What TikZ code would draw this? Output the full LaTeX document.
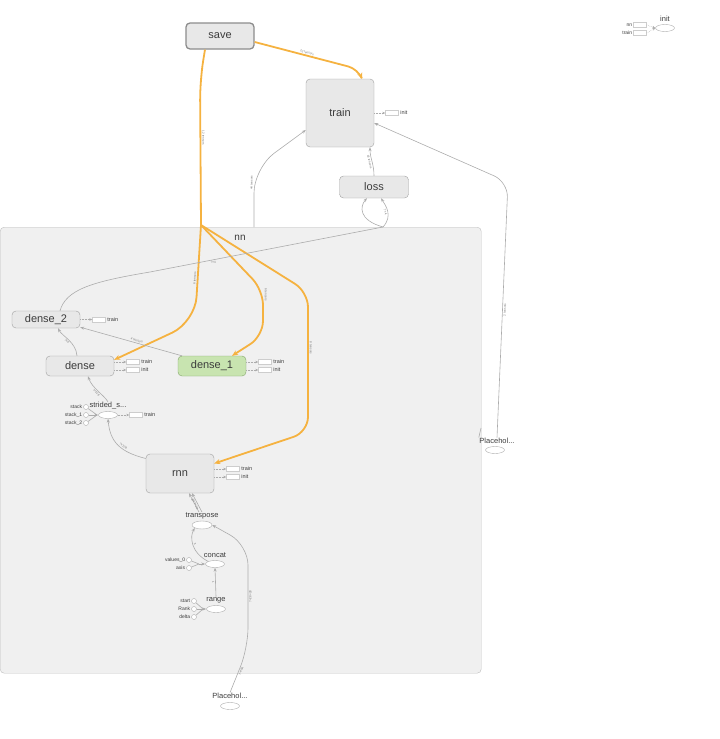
\documentclass[tikz,border=0pt]{standalone}
\usepackage{fontspec}
\setmainfont{Liberation Sans}
\usetikzlibrary{arrows.meta,shapes.geometric}
\definecolor{boxgray}{RGB}{232,232,232}
\definecolor{boxline}{RGB}{160,160,160}
\definecolor{nnfill}{RGB}{240,240,240}
\definecolor{nnline}{RGB}{190,190,190}
\definecolor{edgegray}{RGB}{172,172,172}
\definecolor{refcolor}{RGB}{245,178,64}
\definecolor{lightgreen}{RGB}{200,228,176}
\definecolor{darkgreen}{RGB}{130,165,105}
\definecolor{textgray}{RGB}{60,60,60}

\begin{document}
\begin{tikzpicture}[x=1pt, y=-1pt,
  opbox/.style={draw=boxline, fill=boxgray, rounded corners=4pt, inner sep=0pt, text=textgray, font=\fontsize{11}{11}\selectfont},
  savebox/.style={opbox, draw=black!45, line width=1.3pt},
  cluster/.style={draw=nnline, fill=nnfill, rounded corners=4pt, inner sep=0pt},
  opnode/.style={ellipse, draw=edgegray, fill=white, minimum width=19pt, minimum height=7pt, inner sep=0pt},
  oplabel/.style={font=\fontsize{7.5}{7.5}\selectfont, text=textgray, inner sep=0.5pt},
  port/.style={circle, draw=edgegray, fill=white, minimum size=5pt, inner sep=0pt},
  portlabel/.style={font=\fontsize{5}{5}\selectfont, text=textgray, anchor=east, inner sep=1pt},
  auxbox/.style={draw=edgegray!60, fill=white, minimum width=13pt, minimum height=5pt, inner sep=0pt},
  auxlabel/.style={font=\fontsize{5.5}{5.5}\selectfont, text=textgray, anchor=west, inner sep=1.5pt},
  plainedge/.style={draw=edgegray, line width=0.6pt},
  dataedge/.style={plainedge, -{Stealth[length=4pt,width=3pt]}},
  refline/.style={draw=refcolor, line width=1.8pt},
  refedge/.style={refline, -{Stealth[length=6pt,width=5pt]}},
  ctrledge/.style={draw=edgegray, densely dotted, line width=0.5pt, -{Stealth[length=3pt,width=2.5pt]}},
  elabel/.style={font=\fontsize{3}{3}\selectfont, text=black!55, sloped, inner sep=1pt}]

\useasboundingbox (0,0) rectangle (720,739);

% nn cluster
\node[cluster, anchor=north west, minimum width=481pt, minimum height=446pt] (nn) at (0,227) {};
\node[font=\fontsize{10}{10}\selectfont, text=textgray] (nnlabel) at (240,238) {nn};
\coordinate (hub) at (201,225);
\coordinate (nnout1) at (254,227);
\coordinate (nnout2) at (383,227);
\coordinate (nnin1) at (481,428);

% Top level boxes
\node[savebox, minimum width=68pt, minimum height=26pt] (save) at (220,36) {save};
\node[opbox, minimum width=68pt, minimum height=68pt] (train) at (340,113) {train};
\node[opbox, minimum width=69pt, minimum height=22pt] (loss) at (374,187) {loss};

% Boxes inside nn
\node[opbox, minimum width=68pt, minimum height=17pt] (dense_2) at (46,319.5) {dense\_2};
\node[opbox, minimum width=68pt, minimum height=20pt] (dense) at (80,366) {dense};
\node[opbox, fill=lightgreen, draw=darkgreen, minimum width=68pt, minimum height=20pt] (dense_1) at (212,366) {dense\_1};
\node[opbox, minimum width=68pt, minimum height=39pt] (rnn) at (180,473.5) {rnn};

% Ops
\node[opnode] (strided) at (108,415) {};
\node[oplabel] (stlabel) at (108,406) {strided\_s...};
\node[opnode, minimum width=20pt, minimum height=8pt] (transpose) at (202,525) {};
\node[oplabel] (tplabel) at (202,516) {transpose};
\node[opnode] (concat) at (215,564) {};
\node[oplabel] (cclabel) at (215,555) {concat};
\node[opnode] (range) at (216,609) {};
\node[oplabel] (rglabel) at (216,600) {range};
\node[opnode] (phb) at (230,706) {};
\node[oplabel] (pblabel) at (230,696) {Placehol...};
\node[opnode] (phr) at (495,450) {};
\node[oplabel] (phrlabel) at (497,441) {Placehol...};
\node[opnode] (init) at (665,28) {};
\node[oplabel] (initlabel) at (665,19) {init};

% Inputs of strided_s...
\node[port] (stack) at (86,407) {};
\node[portlabel] at (stack.west) {stack};
\node[port] (stack_1) at (86,415) {};
\node[portlabel] at (stack_1.west) {stack\_1};
\node[port] (stack_2) at (86,423) {};
\node[portlabel] at (stack_2.west) {stack\_2};
\coordinate (stjoin) at (97,415);
\draw[plainedge] (stack) -- (stjoin);
\draw[plainedge] (stack_1) -- (stjoin);
\draw[plainedge] (stack_2) -- (stjoin);
\draw[dataedge] (stjoin) -- (strided.west);

% Inputs of concat
\node[port] (values_0) at (189,560) {};
\node[portlabel] at (values_0.west) {values\_0};
\node[port] (axis) at (189,568) {};
\node[portlabel] at (axis.west) {axis};
\coordinate (ccjoin) at (199,564);
\draw[plainedge] (values_0) -- (ccjoin);
\draw[plainedge] (axis) -- (ccjoin);
\draw[dataedge] (ccjoin) -- (concat.west);

% Inputs of range
\node[port] (start) at (194,601) {};
\node[portlabel] at (start.west) {start};
\node[port] (Rank) at (194,609) {};
\node[portlabel] at (Rank.west) {Rank};
\node[port] (delta) at (194,617) {};
\node[portlabel] at (delta.west) {delta};
\coordinate (rgjoin) at (203,609);
\draw[plainedge] (start) -- (rgjoin);
\draw[plainedge] (Rank) -- (rgjoin);
\draw[plainedge] (delta) -- (rgjoin);
\draw[dataedge] (rgjoin) -- (range.west);

% Control annotations
\node[auxbox] (tinit) at (392,113) {};
\node[auxlabel] at (tinit.east) {init};
\draw[ctrledge] (train.east) -- (tinit.west);
\node[auxbox] (d2train) at (99,319.5) {};
\node[auxlabel] at (d2train.east) {train};
\draw[ctrledge] (dense_2.east) -- (d2train.west);
\node[auxbox] (dtrain) at (133,362) {};
\node[auxlabel] at (dtrain.east) {train};
\node[auxbox] (dinit) at (133,370) {};
\node[auxlabel] at (dinit.east) {init};
\draw[ctrledge] ([yshift=4pt]dense.east) -- (dtrain.west);
\draw[ctrledge] ([yshift=-4pt]dense.east) -- (dinit.west);
\node[auxbox] (d1train) at (265,362) {};
\node[auxlabel] at (d1train.east) {train};
\node[auxbox] (d1init) at (265,370) {};
\node[auxlabel] at (d1init.east) {init};
\draw[ctrledge] ([yshift=4pt]dense_1.east) -- (d1train.west);
\draw[ctrledge] ([yshift=-4pt]dense_1.east) -- (d1init.west);
\node[auxbox] (sttrain) at (136,415) {};
\node[auxlabel] at (sttrain.east) {train};
\draw[ctrledge] (strided.east) -- (sttrain.west);
\node[auxbox] (rtrain) at (233,469) {};
\node[auxlabel] at (rtrain.east) {train};
\node[auxbox] (rinit) at (233,477) {};
\node[auxlabel] at (rinit.east) {init};
\draw[ctrledge] ([yshift=4.5pt]rnn.east) -- (rtrain.west);
\draw[ctrledge] ([yshift=-3.5pt]rnn.east) -- (rinit.west);
\node[auxbox] (initnn) at (640,25) {};
\node[portlabel] at (initnn.west) {nn};
\node[auxbox] (inittrain) at (640,33) {};
\node[portlabel] at (inittrain.west) {train};
\draw[ctrledge] (initnn.east) -- (init.west);
\draw[ctrledge] (inittrain.east) -- (init.west);

% Reference edges from save
\draw[refedge, rounded corners=10pt] ([yshift=-6pt]save.east) -- node[elabel, pos=0.5, above] {22 tensors} (358,69) -- ([xshift=22pt]train.north);
\draw[refline, rounded corners=20pt] ([xshift=-15pt]save.south) -- (200,80) -- node[elabel, pos=0.4, above] {12 tensors} (hub);
\draw[refedge, rounded corners=25pt] (hub) -- node[elabel, pos=0.55, above] {6 tensors} (195,322) -- ([yshift=-4pt]dense.north east);
\draw[refedge, rounded corners=15pt] (hub) -- (263,290) -- node[elabel, pos=0.1, above] {6 tensors} (263,336) -- ([xshift=20pt]dense_1.north);
\draw[refedge, rounded corners=15pt] (hub) -- (308,292) -- node[elabel, pos=0.4, above] {8 tensors} (308,432) -- ([yshift=10pt]rnn.east);

% Data edges
\draw[dataedge, rounded corners=25pt] (nnout1) -- node[elabel, pos=0.75, above] {44 tensors} (254,168) -- ([yshift=-17pt]train.west);
\draw[dataedge] (loss.north) .. controls (374,164) and (370,158) .. ([xshift=30pt]train.south) node[elabel, pos=0.5, below] {16 tensors};
\draw[dataedge] (nnout2) .. controls (358,220) and (360,206) .. ([xshift=-7pt]loss.south);
\draw[dataedge] (nnout2) .. controls (393,216) and (386,206) .. ([xshift=7pt]loss.south) node[elabel, pos=0.5, below] {?×4};
\draw[plainedge] ([xshift=14pt]dense_2.north) .. controls (66,290) and (90,282) .. (150,272) -- node[elabel, pos=0.27, below] {?×4} (nnout2);
\draw[dataedge, rounded corners=15pt] (phrlabel.north) -- node[elabel, pos=0.5, below] {2 tensors} (508,182) -- ([yshift=-10pt]train.east);
\draw[plainedge] (phrlabel.north west) -- (nnin1);
\draw[dataedge] ([xshift=-3pt]dense.north) .. controls (76,342) and (62,336) .. ([xshift=12pt]dense_2.south) node[elabel, pos=0.5, below] {?×4};
\draw[dataedge] ([xshift=-30pt]dense_1.north) -- ([yshift=1pt]dense_2.south east) node[elabel, pos=0.45, above] {4 tensors};
\draw[dataedge] (stlabel.north) .. controls (104,395) and (92,388) .. ([xshift=8pt]dense.south) node[elabel, pos=0.5, below] {?×128};
\draw[dataedge] ([yshift=15pt]rnn.west) .. controls (120,452) and (110,442) .. (strided.south) node[elabel, pos=0.4, above] {?×128};
\draw[dataedge] ([xshift=-3pt]tplabel.north) -- ([xshift=9pt]rnn.south);
\draw[dataedge] (tplabel.north) -- ([xshift=12pt]rnn.south) node[elabel, pos=0.5, below] {28×?×28};
\draw[dataedge] (concat.north west) .. controls (190,552) and (190,536) .. (transpose.south west) node[elabel, pos=0.5, above] {3};
\draw[dataedge] (rglabel.north) -- (concat.south) node[elabel, pos=0.5, below] {1};
\draw[dataedge, rounded corners=20pt] (pblabel.north) -- node[elabel, pos=0.5, below] {?×784} (248,648) -- node[elabel, pos=0.5, below] {?×28×28} (248,545) -- (transpose.east);

\end{tikzpicture}
\end{document}
